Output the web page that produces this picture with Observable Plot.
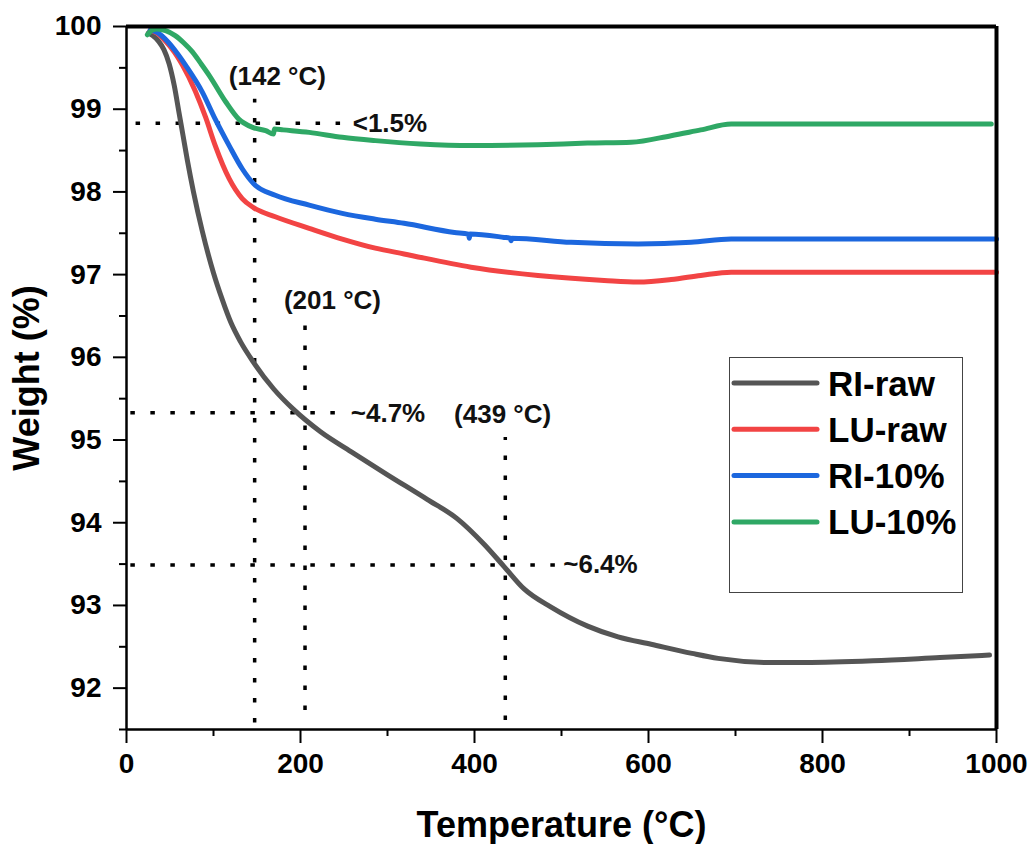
<!DOCTYPE html>
<html><head><meta charset="utf-8">
<script src="https://cdn.jsdelivr.net/npm/d3@7"></script>
<script src="https://cdn.jsdelivr.net/npm/@observablehq/plot@0.6"></script>
<style>
body{margin:0;background:#fff;}
#wrap{position:relative;width:1032px;height:844px;font-family:"Liberation Sans",Arial,sans-serif;}
#legend{position:absolute;left:729px;top:357px;width:234px;height:236px;border:1.3px solid #444;box-sizing:border-box;background:#fff;}
</style></head><body><div id="wrap"></div>
<script>
// ---- data (temperature °C, weight %) ----
const series = ["RI-raw", "LU-raw", "RI-10%", "LU-10%"];
const colors = ["#555555", "#f24444", "#1c67de", "#2fa865"];

const riRaw = [[25,99.92],[30,99.89],[37,99.82],[43,99.72],[49,99.55],[55,99.28],[60,98.98],[65,98.68],[70,98.38],[77,98.0],[87,97.53],[100,97.02],[110,96.7],[120,96.42],[131,96.19],[146,95.94],[169,95.62],[192,95.37],[223,95.1],[258,94.86],[300,94.58],[346,94.28],[380,94.05],[411,93.74],[434,93.47],[457,93.2],[488,92.98],[530,92.75],[565,92.62],[603,92.53],[650,92.42],[680,92.36],[741,92.31],[780,92.31],[858,92.33],[935,92.37],[992,92.4]];
const luRaw = [[27,99.95],[35,99.92],[45,99.82],[55,99.69],[64,99.54],[79,99.22],[91,98.9],[102,98.56],[118,98.16],[133,97.92],[146,97.81],[171,97.7],[210,97.56],[248,97.43],[286,97.32],[319,97.25],[396,97.09],[473,96.99],[549,96.93],[588,96.91],[626,96.94],[660,96.99],[695,97.03],[800,97.03],[1000,97.03]];
const ri10 = [[27,99.95],[35,99.93],[48,99.81],[58,99.68],[68,99.53],[87,99.21],[102,98.88],[118,98.56],[133,98.28],[146,98.1],[171,97.96],[210,97.84],[248,97.74],[286,97.67],[319,97.62],[377,97.51],[393,97.49],[394,97.44],[395,97.49],[434,97.45],[441,97.44],[442,97.41],[443,97.44],[511,97.39],[588,97.37],[649,97.39],[695,97.43],[800,97.43],[1000,97.43]];
const lu10 = [[24,99.9],[30,99.96],[35,99.97],[45,99.95],[56,99.89],[66,99.8],[76,99.69],[85,99.56],[95,99.41],[114,99.09],[129,98.88],[145,98.78],[160,98.74],[169,98.7],[170,98.76],[180,98.75],[210,98.72],[248,98.66],[286,98.62],[338,98.58],[396,98.56],[473,98.57],[530,98.59],[580,98.6],[626,98.68],[660,98.75],[695,98.82],[800,98.82],[994,98.82]];

// annotations
const hGuideY = [98.83, 95.33, 93.49];
const hGuideX1 = [11, 5, 5];
const hGuideX2 = [249, 243, 497];
const vGuideX = [147.3, 205.2, 435.4];
const vGuideY1 = [91.58, 91.73, 91.61];
const vGuideY2 = [99.12, 96.39, 95.03];
const noteText = ["(142 \u00B0C)", "<1.5%", "(201 \u00B0C)", "~4.7%", "(439 \u00B0C)", "~6.4%"];
const noteX = [173.4, 260, 236.7, 257.8, 432.3, 502];
const noteY = [99.39, 98.83, 96.69, 95.32, 95.31, 93.49];
const noteAnchor = ["middle", "start", "middle", "start", "middle", "start"];

const xMajor = [0, 200, 400, 600, 800, 1000];
const xMinor = [100, 300, 500, 700, 900];
const yMajor = [92, 93, 94, 95, 96, 97, 98, 99, 100];
const yMinor = [91.5, 92.5, 93.5, 94.5, 95.5, 96.5, 97.5, 98.5, 99.5];
const xDomain = [0, 1000];
const yDomain = [91.5, 100];

// ---- build ----
const all = [riRaw, luRaw, ri10, lu10];
const data = all.flatMap((arr, i) => arr.map(([t, w]) => ({series: series[i], t, w})));
const hGuides = hGuideY.map((y, i) => ({y, x1: hGuideX1[i], x2: hGuideX2[i]}));
const vGuides = vGuideX.map((x, i) => ({x, y1: vGuideY1[i], y2: vGuideY2[i]}));
const notes = noteText.map((text, i) => ({text, x: noteX[i], y: noteY[i], anchor: noteAnchor[i]}));

const font = '"Liberation Sans", Arial, sans-serif';
const dash = "4.5,15.5";
const chart = Plot.plot({
  width: 1032,
  height: 844,
  marginLeft: 126,
  marginRight: 36,
  marginTop: 26,
  marginBottom: 115,
  style: {fontFamily: font, background: "#fff", color: "#000"},
  x: {domain: xDomain},
  y: {domain: yDomain},
  color: {domain: series, range: colors},
  marks: [
    // guides
    Plot.ruleY(hGuides, {y: "y", x1: "x1", x2: "x2", stroke: "#000", strokeWidth: 3.5, strokeDasharray: dash}),
    Plot.ruleX(vGuides, {x: "x", y1: "y1", y2: "y2", stroke: "#000", strokeWidth: 3.5, strokeDasharray: dash}),
    // curves
    Plot.line(data, {x: "t", y: "w", z: "series", stroke: "series", strokeWidth: 5, curve: "monotone-x", strokeLinecap: "round", strokeLinejoin: "round"}),
    // notes
    ...["middle", "start"].map(a => Plot.text(notes.filter(d => d.anchor === a), {x: "x", y: "y", text: "text", textAnchor: a, fontSize: 26, fontWeight: "bold", fill: "#111", lineAnchor: "middle"})),
    // frame
    Plot.ruleY([yDomain[1]], {strokeWidth: 4, stroke: "#000"}),
    Plot.ruleX([xDomain[1]], {strokeWidth: 4, stroke: "#000"}),
    Plot.ruleX([xDomain[0]], {strokeWidth: 2.5, stroke: "#000"}),
    Plot.ruleY([yDomain[0]], {strokeWidth: 2.5, stroke: "#000"}),
    // axes
    Plot.axisX(xMajor, {tickSize: 14, tickPadding: 10, fontSize: 28, fontWeight: "bold", strokeWidth: 2, label: null, tickFormat: d => String(d)}),
    Plot.axisX(xMinor, {tickSize: 7, tickFormat: () => "", strokeWidth: 2, label: null}),
    Plot.axisY(yMajor, {tickSize: 13, tickPadding: 12, fontSize: 28, fontWeight: "bold", strokeWidth: 2, label: null, tickFormat: d => String(d)}),
    Plot.axisY(yMinor, {tickSize: 7, tickFormat: () => "", strokeWidth: 2, label: null}),
    // titles
    Plot.text(["Temperature (\u00B0C)"], {frameAnchor: "bottom", dy: 96, fontSize: 36, fontWeight: "bold", textAnchor: "middle", lineAnchor: "middle"}),
    Plot.text(["Weight (%)"], {frameAnchor: "left", dx: -99, rotate: -90, fontSize: 36, fontWeight: "bold", textAnchor: "middle", lineAnchor: "middle"})
  ]
});

const wrap = document.getElementById("wrap");
wrap.appendChild(chart);

// legend overlay (inside plot area, as in the reference)
const leg = document.createElement("div");
leg.id = "legend";
wrap.appendChild(leg);
const lsvg = d3.select(leg).append("svg").attr("width", 232).attr("height", 234)
  .style("font-family", font);
series.forEach((s, i) => {
  const y = 25 + i * 46.3;
  lsvg.append("line").attr("x1", 4).attr("x2", 87).attr("y1", y).attr("y2", y)
    .attr("stroke", colors[i]).attr("stroke-width", 5).attr("stroke-linecap", "round");
  lsvg.append("text").attr("x", 98).attr("y", y + 12.5).text(s)
    .attr("font-size", 35).attr("font-weight", "bold").attr("fill", "#000");
});
</script></body></html>
